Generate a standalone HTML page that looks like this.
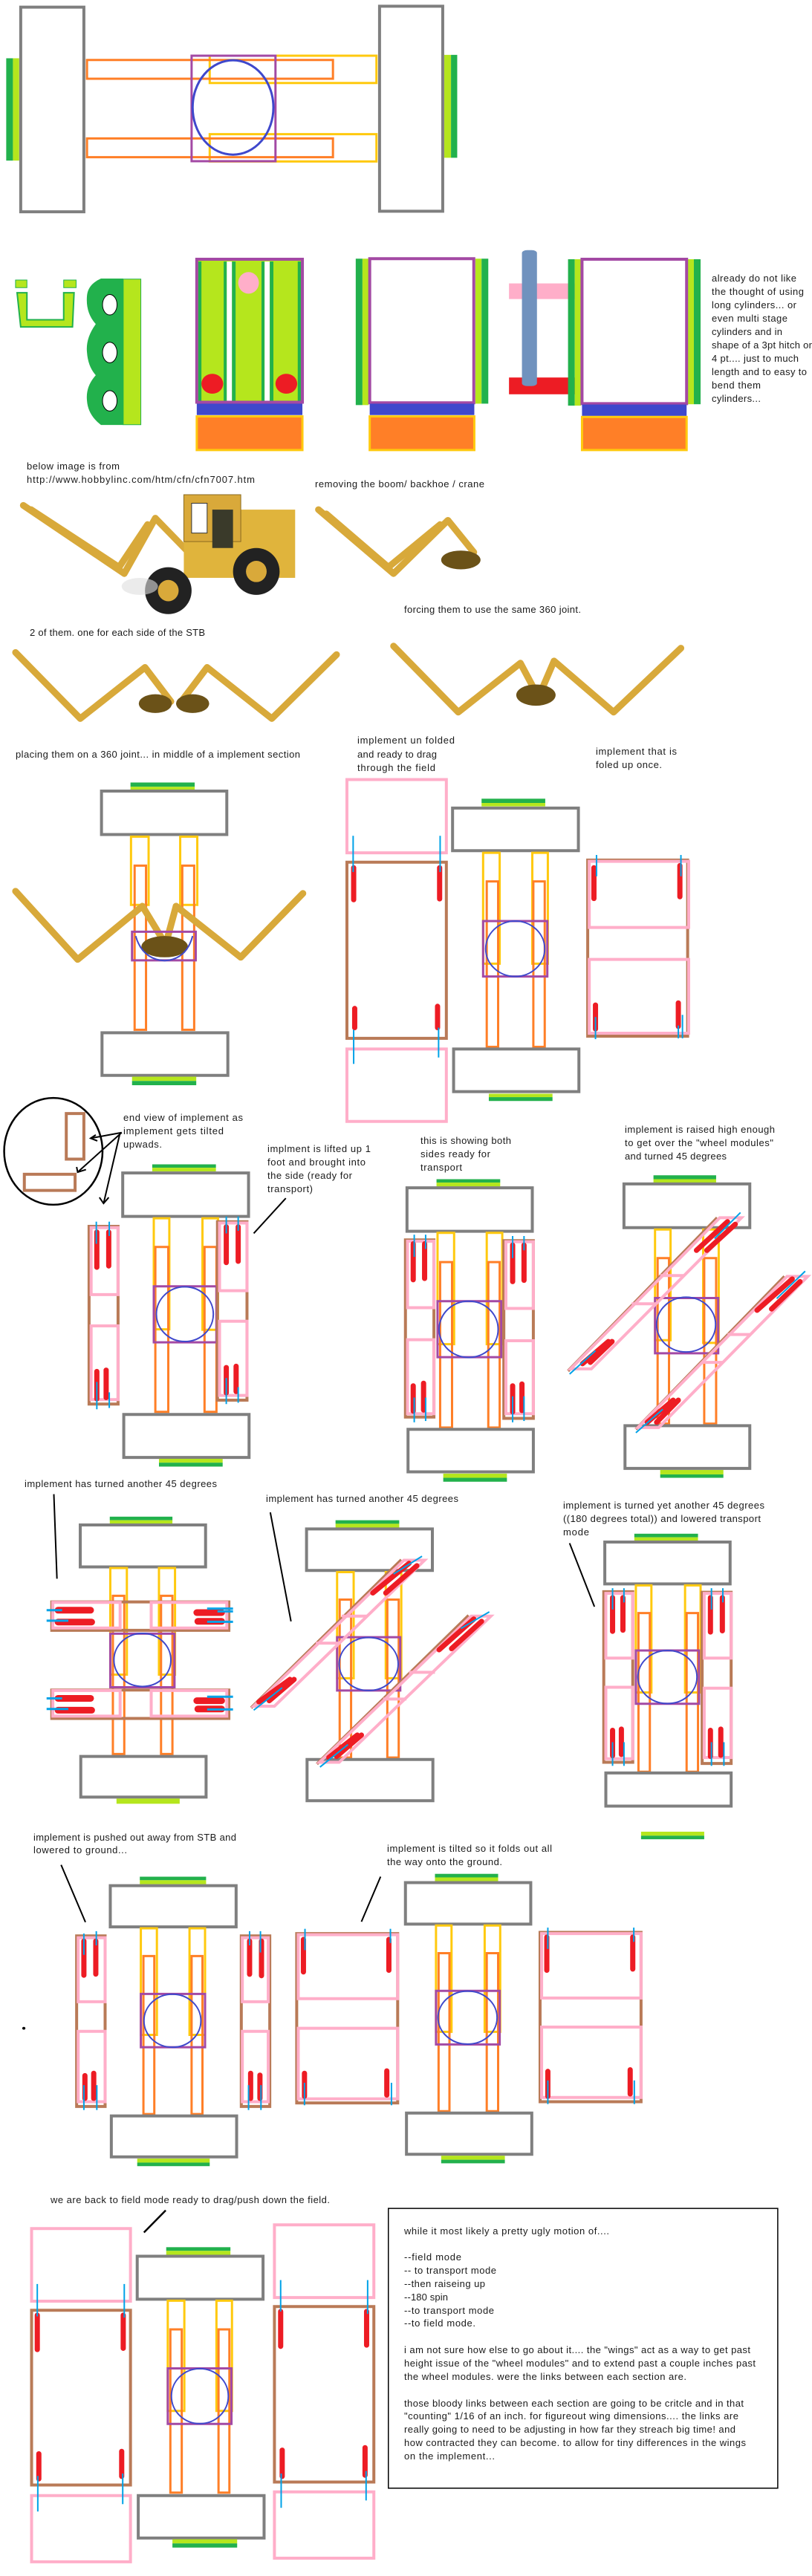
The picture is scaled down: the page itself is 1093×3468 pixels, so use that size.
<!DOCTYPE html>
<html><head><meta charset="utf-8"><style>
html,body{margin:0;padding:0;background:#fff;}
svg{display:block}
rect,ellipse,line,polyline,polygon,path{vector-effect:non-scaling-stroke}
.gy{fill:#fff;stroke:#7f7f7f;stroke-width:4}
.y{fill:none;stroke:#ffc90e;stroke-width:3}
.o{fill:none;stroke:#ff7f27;stroke-width:3}
.p{fill:none;stroke:#a349a4;stroke-width:3}
.b{fill:none;stroke:#3f48cc;stroke-width:2}
.pk{fill:none;stroke:#ffaec9;stroke-width:4}
.br{fill:none;stroke:#b97a57;stroke-width:4}
.r{stroke:#ed1c24;stroke-width:7;stroke-linecap:round}
.c{stroke:#00a2e8;stroke-width:2}
.k{stroke:#000;stroke-width:2;fill:none}
.cr{fill:none;stroke:#d8a93a;stroke-width:9;stroke-linejoin:round;stroke-linecap:round}
.cr2{fill:none;stroke:#a87e22;stroke-width:2}
.bs{fill:#6b5218}
text{font-family:"Liberation Sans",sans-serif;font-size:13px;fill:#1a1a1a}
</style></head><body>
<svg width="1093" height="3468" viewBox="0 0 1093 3468" xmlns="http://www.w3.org/2000/svg">

<!-- R1 -->
<g transform="matrix(0.697,0,0,0.3827,0,0)">
<rect x="12" y="205" width="13" height="360" fill="#22b14c"/><rect x="25" y="205" width="12" height="360" fill="#b5e61d"/>
<rect x="858" y="193" width="13" height="362" fill="#b5e61d"/><rect x="871" y="193" width="12" height="362" fill="#22b14c"/>
<rect class="gy" x="40" y="25" width="122" height="720"/>
<rect class="gy" x="733" y="22" width="122" height="721"/>
<rect class="y" x="405" y="196" width="322" height="96"/>
<rect class="y" x="405" y="472" width="322" height="96"/>
<rect class="o" x="168" y="211" width="475" height="66"/>
<rect class="o" x="168" y="487" width="475" height="66"/>
<rect class="p" x="370" y="196" width="162" height="371"/>
<ellipse class="b" cx="450" cy="378" rx="78" ry="166" style="stroke-width:3"/>
<!-- U -->
<rect x="30" y="985" width="22" height="27" fill="#b5e61d" stroke="#22b14c"/>
<rect x="123" y="985" width="24" height="27" fill="#b5e61d" stroke="#22b14c"/>
<path d="M33,1030 L52,1030 L52,1125 L123,1125 L123,1030 L143,1030 L140,1150 L40,1150 Z" fill="#b5e61d" stroke="#22b14c" stroke-width="2"/>
<path d="M195,980 Q170,1000 168,1040 Q165,1100 185,1140 Q165,1190 168,1240 Q170,1290 185,1320 Q165,1360 168,1410 Q170,1460 195,1495 L238,1495 L238,980 Z" fill="#22b14c"/>
<rect x="238" y="982" width="34" height="512" fill="#b5e61d" stroke="#22b14c" stroke-width="1"/>
<ellipse cx="212" cy="1072" rx="14" ry="36" fill="#fff" stroke="#000"/>
<ellipse cx="212" cy="1240" rx="14" ry="36" fill="#fff" stroke="#000"/>
<ellipse cx="212" cy="1410" rx="14" ry="36" fill="#fff" stroke="#000"/>
<!-- panel A -->
<rect x="380" y="912" width="204" height="503" fill="#b5e61d"/>
<rect x="383" y="920" width="6" height="490" fill="#22b14c"/><rect x="575" y="920" width="6" height="490" fill="#22b14c"/>
<rect x="432" y="920" width="6" height="490" fill="#22b14c"/><rect x="438" y="920" width="10" height="490" fill="#fff"/><rect x="448" y="920" width="7" height="490" fill="#22b14c"/>
<rect x="505" y="920" width="6" height="490" fill="#22b14c"/><rect x="511" y="920" width="10" height="490" fill="#fff"/><rect x="521" y="920" width="7" height="490" fill="#22b14c"/>
<rect class="p" x="380" y="912" width="204" height="503" style="stroke-width:4"/>
<ellipse cx="480" cy="995" rx="20" ry="38" fill="#ffaec9"/>
<ellipse cx="410" cy="1350" rx="21" ry="35" fill="#ed1c24"/><ellipse cx="553" cy="1350" rx="21" ry="35" fill="#ed1c24"/>
<rect x="380" y="1420" width="204" height="40" fill="#3f48cc"/>
<rect x="380" y="1465" width="204" height="118" fill="#ff7f27" stroke="#ffc90e" stroke-width="3"/>
<!-- panel B -->
<rect x="687" y="910" width="13" height="515" fill="#22b14c"/><rect x="700" y="910" width="12" height="515" fill="#b5e61d"/>
<rect x="918" y="910" width="12" height="510" fill="#b5e61d"/><rect x="930" y="910" width="13" height="510" fill="#22b14c"/>
<rect class="p" x="714" y="910" width="201" height="507" style="stroke-width:4"/>
<rect x="714" y="1420" width="202" height="40" fill="#3f48cc"/>
<rect x="714" y="1465" width="202" height="118" fill="#ff7f27" stroke="#ffc90e" stroke-width="3"/>
<!-- panel C -->
<rect x="983" y="997" width="129" height="55" fill="#ffaec9"/>
<rect x="983" y="1328" width="129" height="59" fill="#ed1c24"/>
<rect x="1008" y="880" width="29" height="478" rx="10" fill="#7092be"/>
<rect x="1097" y="912" width="13" height="515" fill="#22b14c"/><rect x="1110" y="912" width="12" height="515" fill="#b5e61d"/>
<rect x="1328" y="912" width="12" height="510" fill="#b5e61d"/><rect x="1340" y="912" width="13" height="510" fill="#22b14c"/>
<rect class="p" x="1124" y="912" width="202" height="508" style="stroke-width:4"/>
<rect x="1124" y="1423" width="202" height="40" fill="#3f48cc"/>
<rect x="1124" y="1467" width="202" height="116" fill="#ff7f27" stroke="#ffc90e" stroke-width="3"/>
</g>

<!-- R2 -->
<g transform="matrix(0.697,0,0,0.574,0,600)">
<!-- photo1 -->
<polyline class="cr" points="45,140 240,300 300,170 360,245"/>
<polyline class="cr" points="60,150 230,285 285,185"/>
<rect x="355" y="150" width="215" height="160" fill="#e0b43c"/>
<rect x="355" y="115" width="110" height="110" fill="#d9a93a" stroke="#8a6a20"/>
<rect x="370" y="135" width="30" height="70" fill="#fff" stroke="#333"/>
<rect x="410" y="150" width="40" height="90" fill="#3a3a2a"/>
<ellipse cx="325" cy="340" rx="45" ry="55" fill="#222"/><ellipse cx="325" cy="340" rx="20" ry="25" fill="#d9a93a"/>
<ellipse cx="495" cy="295" rx="45" ry="55" fill="#222"/><ellipse cx="495" cy="295" rx="20" ry="25" fill="#d9a93a"/>
<ellipse cx="270" cy="330" rx="35" ry="20" fill="#ddd" opacity="0.6"/>
<!-- photo2 -->
<polyline class="cr" points="615,150 760,300 865,175 915,250"/>
<polyline class="cr" points="630,160 750,285 850,185"/>
<ellipse class="bs" cx="890" cy="268" rx="38" ry="22"/>
<!-- photo3 -->
<polyline class="cr" points="30,485 155,640 280,520 330,600"/>
<polyline class="cr" points="650,490 525,640 400,520 350,600"/>
<ellipse class="bs" cx="300" cy="605" rx="32" ry="22"/><ellipse class="bs" cx="372" cy="605" rx="32" ry="22"/>
<!-- photo4 -->
<polyline class="cr" points="760,470 885,625 1005,510 1040,590"/>
<polyline class="cr" points="1315,475 1185,625 1070,505 1040,590"/>
<ellipse class="bs" cx="1035" cy="585" rx="38" ry="25"/>
<!-- STB diagram 1 -->
<rect x="252" y="790" width="124" height="10" fill="#22b14c"/><rect x="252" y="800" width="124" height="8" fill="#b5e61d"/>
<rect class="gy" x="196" y="810" width="242" height="102"/>
<rect class="y" x="253" y="917" width="34" height="160"/><rect class="y" x="348" y="917" width="33" height="160"/>
<rect class="o" x="260" y="985" width="22" height="385"/><rect class="o" x="352" y="985" width="23" height="385"/>
<polyline class="cr" points="30,1045 150,1205 275,1080 320,1170"/>
<polyline class="cr" points="585,1050 465,1200 340,1080 320,1170"/>
<rect class="p" x="255" y="1140" width="123" height="67"/>
<ellipse class="bs" cx="318" cy="1175" rx="45" ry="25"/>
<path class="b" d="M262,1150 Q275,1205 318,1208 Q360,1205 372,1150"/>
<rect class="gy" x="197" y="1377" width="243" height="100"/>
<rect x="255" y="1480" width="124" height="10" fill="#b5e61d"/><rect x="255" y="1490" width="124" height="10" fill="#22b14c"/>
<!-- field mode -->
<rect class="pk" x="670" y="783" width="192" height="172"/>
<rect class="br" x="670" y="977" width="192" height="413"/>
<rect class="pk" x="670" y="1415" width="192" height="170"/>
<line class="r" x1="683" y1="990" x2="683" y2="1065"/><line class="r" x1="849" y1="990" x2="849" y2="1063"/>
<line class="r" x1="685" y1="1320" x2="685" y2="1365"/><line class="r" x1="845" y1="1315" x2="845" y2="1365"/>
<line class="c" x1="682" y1="915" x2="682" y2="1000"/><line class="c" x1="850" y1="915" x2="850" y2="1000"/>
<line class="c" x1="683" y1="1370" x2="683" y2="1450"/><line class="c" x1="847" y1="1365" x2="847" y2="1435"/>
<rect x="930" y="828" width="123" height="10" fill="#22b14c"/><rect x="930" y="838" width="123" height="8" fill="#b5e61d"/>
<rect class="gy" x="874" y="850" width="243" height="100"/>
<rect class="y" x="933" y="955" width="32" height="260"/><rect class="y" x="1028" y="955" width="30" height="260"/>
<rect class="o" x="940" y="1022" width="22" height="388"/><rect class="o" x="1030" y="1022" width="22" height="388"/>
<rect class="p" x="933" y="1115" width="124" height="130"/>
<ellipse class="b" cx="995" cy="1180" rx="57" ry="65"/>
<rect class="gy" x="876" y="1415" width="242" height="100"/>
<rect x="944" y="1520" width="123" height="8" fill="#b5e61d"/><rect x="944" y="1528" width="123" height="9" fill="#22b14c"/>
<!-- folded once -->
<rect class="br" x="1135" y="972" width="193" height="413"/>
<rect class="pk" x="1138" y="975" width="192" height="155"/>
<rect class="pk" x="1138" y="1205" width="192" height="173"/>
<line class="r" x1="1147" y1="990" x2="1147" y2="1062"/><line class="r" x1="1313" y1="985" x2="1313" y2="1058"/>
<line class="r" x1="1150" y1="1312" x2="1150" y2="1368"/><line class="r" x1="1310" y1="1307" x2="1310" y2="1362"/>
<line class="c" x1="1152" y1="960" x2="1152" y2="1010"/><line class="c" x1="1315" y1="960" x2="1315" y2="1010"/>
<line class="c" x1="1150" y1="1340" x2="1150" y2="1392"/><line class="c" x1="1318" y1="1335" x2="1318" y2="1390"/><line class="c" x1="1310" y1="1360" x2="1310" y2="1390"/>
</g>

<!-- R3 -->
<g transform="matrix(0.697,0,0,0.3508,0,1450)">
<ellipse cx="103" cy="285" rx="95" ry="205" class="k" style="stroke-width:2.5"/>
<rect class="br" x="128" y="140" width="34" height="175"/>
<rect class="br" x="47" y="373" width="98" height="62"/>
<line class="k" x1="235" y1="213" x2="175" y2="235"/><line class="k" x1="235" y1="213" x2="150" y2="365"/><line class="k" x1="232" y1="213" x2="200" y2="485"/>
<polyline class="k" points="185,222 175,235 188,245"/><polyline class="k" points="148,345 150,365 166,355"/><polyline class="k" points="192,462 200,485 210,462"/>
<line class="k" x1="552" y1="465" x2="490" y2="600"/>
<!-- A -->
<rect x="294" y="335" width="123" height="13" fill="#22b14c"/><rect x="294" y="348" width="123" height="14" fill="#b5e61d"/>
<rect class="gy" x="237" y="368" width="243" height="167"/>
<rect class="y" x="297" y="542" width="30" height="426"/><rect class="y" x="391" y="542" width="30" height="428"/>
<rect class="o" x="300" y="652" width="25" height="633"/><rect class="o" x="395" y="652" width="23" height="633"/>
<rect class="p" x="297" y="803" width="121" height="215"/>
<ellipse class="b" cx="357" cy="910" rx="55" ry="105"/>
<rect class="gy" x="239" y="1295" width="242" height="165"/>
<rect x="307" y="1465" width="123" height="15" fill="#b5e61d"/><rect x="307" y="1480" width="123" height="15" fill="#22b14c"/>
<rect class="br" x="172" y="573" width="56" height="682"/>
<rect class="pk" x="176" y="578" width="52" height="257"/><rect class="pk" x="176" y="955" width="52" height="283"/>
<line class="r" x1="187" y1="595" x2="187" y2="730"/><line class="r" x1="210" y1="595" x2="210" y2="725"/>
<line class="r" x1="187" y1="1130" x2="187" y2="1235"/><line class="r" x1="205" y1="1125" x2="205" y2="1230"/>
<line class="c" x1="186" y1="555" x2="186" y2="640"/><line class="c" x1="211" y1="555" x2="211" y2="610"/>
<line class="c" x1="187" y1="1170" x2="187" y2="1275"/><line class="c" x1="211" y1="1210" x2="211" y2="1270"/>
<rect class="br" x="420" y="555" width="57" height="685"/>
<rect class="pk" x="424" y="560" width="53" height="260"/><rect class="pk" x="424" y="937" width="53" height="285"/>
<line class="r" x1="437" y1="575" x2="437" y2="712"/><line class="r" x1="460" y1="575" x2="460" y2="707"/>
<line class="r" x1="437" y1="1115" x2="437" y2="1212"/><line class="r" x1="456" y1="1110" x2="456" y2="1207"/>
<line class="c" x1="437" y1="535" x2="437" y2="600"/><line class="c" x1="460" y1="535" x2="460" y2="590"/>
<line class="c" x1="437" y1="1155" x2="437" y2="1255"/><line class="c" x1="460" y1="1190" x2="460" y2="1250"/>
<!-- B -->
<rect x="843" y="392" width="123" height="13" fill="#22b14c"/><rect x="843" y="405" width="123" height="15" fill="#b5e61d"/>
<rect class="gy" x="786" y="425" width="242" height="167"/>
<rect class="y" x="845" y="598" width="32" height="427"/><rect class="y" x="940" y="598" width="30" height="427"/>
<rect class="o" x="850" y="710" width="23" height="635"/><rect class="o" x="943" y="710" width="22" height="635"/>
<rect class="p" x="845" y="860" width="123" height="215"/>
<ellipse class="b" cx="905" cy="968" rx="57" ry="108"/>
<rect class="gy" x="788" y="1352" width="242" height="163"/>
<rect x="856" y="1522" width="123" height="16" fill="#b5e61d"/><rect x="856" y="1538" width="123" height="15" fill="#22b14c"/>
<rect class="br" x="783" y="625" width="55" height="680"/>
<rect class="pk" x="787" y="630" width="51" height="255"/><rect class="pk" x="787" y="1008" width="51" height="284"/>
<line class="r" x1="798" y1="640" x2="798" y2="778"/><line class="r" x1="820" y1="640" x2="820" y2="773"/>
<line class="r" x1="798" y1="1185" x2="798" y2="1282"/><line class="r" x1="818" y1="1175" x2="818" y2="1278"/>
<line class="c" x1="800" y1="605" x2="800" y2="690"/><line class="c" x1="822" y1="605" x2="822" y2="660"/>
<line class="c" x1="800" y1="1230" x2="800" y2="1325"/><line class="c" x1="822" y1="1230" x2="822" y2="1320"/>
<rect class="br" x="973" y="628" width="57" height="682"/>
<rect class="pk" x="977" y="632" width="53" height="256"/><rect class="pk" x="977" y="1012" width="53" height="280"/>
<line class="r" x1="990" y1="645" x2="990" y2="785"/><line class="r" x1="1012" y1="645" x2="1012" y2="780"/>
<line class="r" x1="990" y1="1185" x2="990" y2="1285"/><line class="r" x1="1008" y1="1178" x2="1008" y2="1280"/>
<line class="c" x1="990" y1="610" x2="990" y2="695"/><line class="c" x1="1012" y1="610" x2="1012" y2="665"/>
<line class="c" x1="990" y1="1225" x2="990" y2="1325"/><line class="c" x1="1012" y1="1225" x2="1012" y2="1320"/>
<!-- C -->
<rect x="1262" y="377" width="121" height="15" fill="#22b14c"/><rect x="1262" y="392" width="121" height="16" fill="#b5e61d"/>
<rect class="gy" x="1205" y="410" width="243" height="168"/>
<rect class="y" x="1265" y="585" width="30" height="425"/><rect class="y" x="1358" y="585" width="30" height="435"/>
<rect class="o" x="1270" y="695" width="22" height="635"/><rect class="o" x="1360" y="695" width="23" height="635"/>
<rect class="p" x="1265" y="848" width="122" height="212"/>
<ellipse class="b" cx="1325" cy="950" rx="57" ry="105"/>
<rect class="gy" x="1207" y="1338" width="241" height="164"/>
<rect x="1275" y="1508" width="122" height="17" fill="#b5e61d"/><rect x="1275" y="1525" width="122" height="13" fill="#22b14c"/>
<line class="br" x1="1385" y1="540" x2="1097" y2="1128"/>
<polygon class="pk" points="1390,540 1432,540 1142,1120 1102,1120"/>
<line class="r" x1="1345" y1="665" x2="1405" y2="555"/><line class="r" x1="1365" y1="665" x2="1420" y2="565"/>
<line class="r" x1="1125" y1="1100" x2="1175" y2="1015"/><line class="r" x1="1140" y1="1095" x2="1182" y2="1015"/>
<line class="c" x1="1380" y1="620" x2="1430" y2="520"/><line class="c" x1="1100" y1="1140" x2="1150" y2="1050"/>
<line class="br" x1="1515" y1="765" x2="1228" y2="1352"/>
<polygon class="pk" points="1520,765 1560,765 1272,1345 1232,1345"/>
<line class="r" x1="1462" y1="895" x2="1530" y2="775"/><line class="r" x1="1490" y1="890" x2="1545" y2="785"/>
<line class="r" x1="1250" y1="1325" x2="1300" y2="1240"/><line class="r" x1="1268" y1="1325" x2="1310" y2="1240"/>
<line class="c" x1="1500" y1="850" x2="1555" y2="745"/><line class="c" x1="1228" y1="1365" x2="1280" y2="1275"/>
<line class="pk" x1="1275" y1="762" x2="1320" y2="762"/><line class="pk" x1="1220" y1="870" x2="1268" y2="870"/>
<line class="pk" x1="1405" y1="988" x2="1450" y2="988"/><line class="pk" x1="1355" y1="1095" x2="1395" y2="1095"/>
</g>

<!-- R4 -->
<g transform="matrix(0.697,0,0,0.3189,0,1950)">
<line class="k" x1="104" y1="193" x2="110" y2="550"/>
<line class="k" x1="522" y1="270" x2="562" y2="730"/>
<line class="k" x1="1100" y1="400" x2="1148" y2="668"/>
<!-- D -->
<rect x="212" y="288" width="121" height="15" fill="#22b14c"/><rect x="212" y="303" width="121" height="17" fill="#b5e61d"/>
<rect class="gy" x="155" y="323" width="242" height="177"/>
<rect class="y" x="213" y="505" width="32" height="450"/><rect class="y" x="307" y="505" width="31" height="450"/>
<rect class="o" x="218" y="622" width="22" height="668"/><rect class="o" x="311" y="622" width="22" height="668"/>
<rect class="p" x="213" y="782" width="124" height="226"/>
<ellipse class="b" cx="275" cy="893" rx="55" ry="112"/>
<rect class="gy" x="156" y="1300" width="242" height="172"/>
<rect x="225" y="1478" width="122" height="22" fill="#b5e61d"/>
<rect class="br" x="100" y="648" width="342" height="120"/>
<rect class="pk" x="102" y="650" width="130" height="108"/><rect class="pk" x="292" y="650" width="146" height="108"/>
<line class="r" x1="112" y1="683" x2="175" y2="683" style="stroke-width:9"/><line class="r" x1="112" y1="733" x2="177" y2="733" style="stroke-width:9"/>
<line class="r" x1="380" y1="693" x2="428" y2="693" style="stroke-width:9"/><line class="r" x1="382" y1="730" x2="428" y2="730" style="stroke-width:9"/>
<line class="c" x1="90" y1="683" x2="120" y2="683" style="stroke-width:3"/><line class="c" x1="90" y1="727" x2="132" y2="727" style="stroke-width:3"/>
<line class="c" x1="400" y1="676" x2="450" y2="676" style="stroke-width:3"/><line class="c" x1="420" y1="688" x2="450" y2="688" style="stroke-width:3"/><line class="c" x1="400" y1="732" x2="450" y2="732" style="stroke-width:3"/>
<rect class="br" x="100" y="1020" width="342" height="120"/>
<rect class="pk" x="102" y="1022" width="130" height="108"/><rect class="pk" x="292" y="1022" width="146" height="108"/>
<line class="r" x1="112" y1="1055" x2="175" y2="1055" style="stroke-width:9"/><line class="r" x1="112" y1="1105" x2="177" y2="1105" style="stroke-width:9"/>
<line class="r" x1="380" y1="1065" x2="428" y2="1065" style="stroke-width:9"/><line class="r" x1="382" y1="1100" x2="428" y2="1100" style="stroke-width:9"/>
<line class="c" x1="90" y1="1055" x2="120" y2="1055" style="stroke-width:3"/><line class="c" x1="90" y1="1100" x2="132" y2="1100" style="stroke-width:3"/>
<line class="c" x1="400" y1="1048" x2="450" y2="1048" style="stroke-width:3"/><line class="c" x1="400" y1="1102" x2="450" y2="1102" style="stroke-width:3"/>
<!-- E -->
<rect x="648" y="303" width="123" height="15" fill="#22b14c"/><rect x="648" y="318" width="123" height="17" fill="#b5e61d"/>
<rect class="gy" x="592" y="340" width="243" height="175"/>
<rect class="y" x="651" y="522" width="32" height="448"/><rect class="y" x="745" y="522" width="30" height="448"/>
<rect class="o" x="656" y="638" width="22" height="667"/><rect class="o" x="748" y="638" width="22" height="667"/>
<rect class="p" x="651" y="797" width="122" height="225"/>
<ellipse class="b" cx="712" cy="910" rx="57" ry="112"/>
<rect class="gy" x="593" y="1313" width="243" height="174"/>
<line class="br" x1="775" y1="470" x2="485" y2="1095"/>
<polygon class="pk" points="780,472 820,472 530,1088 490,1088"/>
<line class="r" x1="720" y1="610" x2="790" y2="485"/><line class="r" x1="745" y1="610" x2="805" y2="495"/>
<line class="r" x1="500" y1="1070" x2="560" y2="975"/><line class="r" x1="520" y1="1065" x2="568" y2="975"/>
<line class="c" x1="760" y1="530" x2="815" y2="455"/><line class="c" x1="490" y1="1105" x2="545" y2="1010"/>
<line class="br" x1="905" y1="705" x2="612" y2="1332"/>
<polygon class="pk" points="910,708 948,708 655,1325 617,1325"/>
<line class="r" x1="848" y1="850" x2="915" y2="720"/><line class="r" x1="872" y1="845" x2="930" y2="730"/>
<line class="r" x1="635" y1="1305" x2="690" y2="1210"/><line class="r" x1="650" y1="1300" x2="698" y2="1210"/>
<line class="c" x1="890" y1="760" x2="945" y2="690"/><line class="c" x1="618" y1="1345" x2="672" y2="1250"/>
<line class="pk" x1="660" y1="708" x2="710" y2="708"/><line class="pk" x1="610" y1="822" x2="655" y2="822"/>
<line class="pk" x1="790" y1="945" x2="840" y2="945"/><line class="pk" x1="740" y1="1058" x2="785" y2="1058"/>
<!-- F -->
<rect x="1225" y="360" width="123" height="15" fill="#22b14c"/><rect x="1225" y="375" width="123" height="17" fill="#b5e61d"/>
<rect class="gy" x="1168" y="395" width="242" height="177"/>
<rect class="y" x="1228" y="578" width="30" height="452"/><rect class="y" x="1323" y="578" width="30" height="452"/>
<rect class="o" x="1233" y="695" width="22" height="670"/><rect class="o" x="1326" y="695" width="22" height="670"/>
<rect class="p" x="1228" y="853" width="122" height="225"/>
<ellipse class="b" cx="1289" cy="965" rx="57" ry="112"/>
<rect class="gy" x="1170" y="1370" width="242" height="140"/>
<rect class="br" x="1166" y="605" width="56" height="720"/>
<rect class="pk" x="1170" y="612" width="52" height="273"/><rect class="pk" x="1170" y="1008" width="52" height="302"/>
<line class="r" x1="1183" y1="630" x2="1183" y2="772"/><line class="r" x1="1203" y1="630" x2="1203" y2="767"/>
<line class="r" x1="1183" y1="1190" x2="1183" y2="1297"/><line class="r" x1="1200" y1="1185" x2="1200" y2="1292"/>
<line class="c" x1="1183" y1="590" x2="1183" y2="680"/><line class="c" x1="1205" y1="590" x2="1205" y2="650"/>
<line class="c" x1="1183" y1="1240" x2="1183" y2="1340"/><line class="c" x1="1205" y1="1240" x2="1205" y2="1340"/>
<rect class="br" x="1356" y="607" width="56" height="723"/>
<rect class="pk" x="1360" y="612" width="52" height="273"/><rect class="pk" x="1360" y="1012" width="52" height="293"/>
<line class="r" x1="1372" y1="630" x2="1372" y2="775"/><line class="r" x1="1395" y1="630" x2="1395" y2="770"/>
<line class="r" x1="1372" y1="1190" x2="1372" y2="1300"/><line class="r" x1="1392" y1="1185" x2="1392" y2="1295"/>
<line class="c" x1="1374" y1="590" x2="1374" y2="680"/><line class="c" x1="1396" y1="590" x2="1396" y2="650"/>
<line class="c" x1="1374" y1="1240" x2="1374" y2="1340"/><line class="c" x1="1398" y1="1240" x2="1398" y2="1340"/>
</g>

<!-- R5 -->
<g transform="matrix(0.697,0,0,0.3189,0,2450)">
<rect x="1238" y="50" width="122" height="17" fill="#b5e61d"/><rect x="1238" y="67" width="122" height="15" fill="#22b14c"/>
<line class="k" x1="118" y1="190" x2="165" y2="432"/>
<line class="k" x1="735" y1="240" x2="698" y2="430"/>
<ellipse cx="46" cy="880" rx="3" ry="6" fill="#000"/>
<!-- G -->
<rect x="270" y="240" width="128" height="15" fill="#22b14c"/><rect x="270" y="255" width="128" height="17" fill="#b5e61d"/>
<rect class="gy" x="213" y="278" width="243" height="174"/>
<rect class="y" x="272" y="458" width="31" height="450"/><rect class="y" x="366" y="458" width="30" height="450"/>
<rect class="o" x="277" y="575" width="21" height="667"/><rect class="o" x="370" y="575" width="21" height="667"/>
<rect class="p" x="272" y="735" width="124" height="225"/>
<ellipse class="b" cx="333" cy="848" rx="55" ry="112"/>
<rect class="gy" x="215" y="1250" width="242" height="173"/>
<rect x="265" y="1430" width="140" height="17" fill="#b5e61d"/><rect x="265" y="1447" width="140" height="15" fill="#22b14c"/>
<rect class="br" x="148" y="490" width="55" height="720"/>
<rect class="pk" x="151" y="498" width="52" height="270"/><rect class="pk" x="151" y="893" width="52" height="297"/>
<line class="r" x1="162" y1="512" x2="162" y2="656"/><line class="r" x1="185" y1="512" x2="185" y2="651"/>
<line class="r" x1="164" y1="1080" x2="164" y2="1176"/><line class="r" x1="181" y1="1070" x2="181" y2="1176"/>
<line class="c" x1="162" y1="480" x2="162" y2="570"/><line class="c" x1="186" y1="470" x2="186" y2="530"/>
<line class="c" x1="162" y1="1120" x2="162" y2="1225"/><line class="c" x1="187" y1="1120" x2="187" y2="1225"/>
<rect class="br" x="466" y="490" width="55" height="720"/>
<rect class="pk" x="468" y="498" width="50" height="270"/><rect class="pk" x="468" y="893" width="50" height="297"/>
<line class="r" x1="482" y1="512" x2="482" y2="652"/><line class="r" x1="505" y1="512" x2="505" y2="658"/>
<line class="r" x1="484" y1="1070" x2="484" y2="1176"/><line class="r" x1="502" y1="1078" x2="502" y2="1176"/>
<line class="c" x1="482" y1="470" x2="482" y2="530"/><line class="c" x1="503" y1="470" x2="503" y2="560"/>
<line class="c" x1="480" y1="1120" x2="480" y2="1225"/><line class="c" x1="504" y1="1120" x2="504" y2="1225"/>
<!-- H -->
<rect x="840" y="228" width="122" height="15" fill="#22b14c"/><rect x="840" y="243" width="122" height="17" fill="#b5e61d"/>
<rect class="gy" x="783" y="265" width="242" height="175"/>
<rect class="y" x="842" y="446" width="30" height="449"/><rect class="y" x="936" y="446" width="30" height="449"/>
<rect class="o" x="847" y="563" width="21" height="667"/><rect class="o" x="940" y="563" width="22" height="667"/>
<rect class="p" x="842" y="722" width="123" height="226"/>
<ellipse class="b" cx="903" cy="835" rx="57" ry="112"/>
<rect class="gy" x="785" y="1238" width="242" height="174"/>
<rect x="852" y="1418" width="123" height="17" fill="#b5e61d"/><rect x="852" y="1435" width="123" height="15" fill="#22b14c"/>
<rect class="br" x="573" y="480" width="195" height="715"/>
<rect class="pk" x="576" y="485" width="192" height="270"/><rect class="pk" x="576" y="880" width="192" height="298"/>
<line class="r" x1="586" y1="505" x2="586" y2="642"/><line class="r" x1="751" y1="505" x2="751" y2="635"/>
<line class="r" x1="588" y1="1070" x2="588" y2="1167"/><line class="r" x1="747" y1="1060" x2="747" y2="1162"/>
<line class="c" x1="589" y1="460" x2="589" y2="550"/><line class="c" x1="754" y1="460" x2="754" y2="520"/>
<line class="c" x1="588" y1="1110" x2="588" y2="1205"/><line class="c" x1="756" y1="1110" x2="756" y2="1205"/>
<rect class="br" x="1043" y="475" width="195" height="715"/>
<rect class="pk" x="1046" y="480" width="192" height="272"/><rect class="pk" x="1046" y="875" width="192" height="297"/>
<line class="r" x1="1056" y1="495" x2="1056" y2="635"/><line class="r" x1="1222" y1="495" x2="1222" y2="630"/>
<line class="r" x1="1058" y1="1062" x2="1058" y2="1167"/><line class="r" x1="1217" y1="1055" x2="1217" y2="1157"/>
<line class="c" x1="1058" y1="455" x2="1058" y2="545"/><line class="c" x1="1224" y1="455" x2="1224" y2="515"/>
<line class="c" x1="1058" y1="1100" x2="1058" y2="1200"/><line class="c" x1="1225" y1="1100" x2="1225" y2="1200"/>
</g>

<!-- R6 -->
<g transform="matrix(0.697,0,0,0.3304,0,2950)">
<line class="k" x1="320" y1="78" x2="278" y2="168" style="stroke-width:2.5"/>
<rect class="pk" x="61" y="152" width="191" height="296"/>
<rect class="br" x="61" y="485" width="191" height="712"/>
<rect class="pk" x="61" y="1240" width="191" height="270"/>
<line class="r" x1="72" y1="505" x2="72" y2="645"/><line class="r" x1="238" y1="505" x2="238" y2="640"/>
<line class="r" x1="75" y1="1070" x2="75" y2="1172"/><line class="r" x1="235" y1="1060" x2="235" y2="1162"/>
<line class="c" x1="72" y1="378" x2="72" y2="510"/><line class="c" x1="240" y1="378" x2="240" y2="515"/>
<line class="c" x1="73" y1="1160" x2="73" y2="1305"/><line class="c" x1="237" y1="1150" x2="237" y2="1275"/>
<rect x="321" y="228" width="124" height="15" fill="#22b14c"/><rect x="321" y="243" width="124" height="17" fill="#b5e61d"/>
<rect class="gy" x="265" y="265" width="243" height="175"/>
<rect class="y" x="324" y="446" width="32" height="449"/><rect class="y" x="418" y="446" width="30" height="449"/>
<rect class="o" x="329" y="563" width="22" height="665"/><rect class="o" x="422" y="563" width="21" height="665"/>
<rect class="p" x="324" y="722" width="123" height="226"/>
<ellipse class="b" cx="386" cy="835" rx="55" ry="112"/>
<rect class="gy" x="267" y="1240" width="243" height="173"/>
<rect x="333" y="1418" width="125" height="17" fill="#b5e61d"/><rect x="333" y="1435" width="125" height="17" fill="#22b14c"/>
<rect class="pk" x="530" y="137" width="192" height="296"/>
<rect class="br" x="530" y="470" width="192" height="715"/>
<rect class="pk" x="530" y="1225" width="192" height="270"/>
<line class="r" x1="542" y1="490" x2="542" y2="632"/><line class="r" x1="708" y1="490" x2="708" y2="627"/>
<line class="r" x1="545" y1="1055" x2="545" y2="1162"/><line class="r" x1="705" y1="1045" x2="705" y2="1157"/>
<line class="c" x1="542" y1="362" x2="542" y2="490"/><line class="c" x1="710" y1="362" x2="710" y2="500"/>
<line class="c" x1="543" y1="1150" x2="543" y2="1290"/><line class="c" x1="707" y1="1140" x2="707" y2="1260"/>
<rect x="750" y="70" width="752" height="1140" fill="none" stroke="#000" stroke-width="1.5"/>
</g>

<!-- TEXT -->
<g>
<text x="958" y="379" textLength="114">already do not like</text>
<text x="958" y="397" textLength="124">the thought of using</text>
<text x="958" y="415" textLength="114">long cylinders... or</text>
<text x="958" y="433" textLength="102">even multi stage</text>
<text x="958" y="451" textLength="95">cylinders and in</text>
<text x="958" y="469" textLength="135">shape of a 3pt hitch or</text>
<text x="958" y="487" textLength="117">4 pt.... just to much</text>
<text x="958" y="505" textLength="128">length and to easy to</text>
<text x="958" y="523" textLength="66">bend them</text>
<text x="958" y="541" textLength="66">cylinders...</text>

<text x="36" y="632" textLength="125">below image is from</text>
<text x="36" y="650" textLength="307">http://www.hobbylinc.com/htm/cfn/cfn7007.htm</text>
<text x="424" y="656" textLength="228">removing the boom/ backhoe / crane</text>
<text x="544" y="825" textLength="238">forcing them to use the same 360 joint.</text>
<text x="40" y="856" textLength="236">2 of them. one for each side of the STB</text>
<text x="21" y="1020" textLength="383">placing them on a 360 joint... in middle of a implement section</text>
<text x="481" y="1001" textLength="131">implement un folded</text>
<text x="481" y="1020" textLength="107">and ready to drag</text>
<text x="481" y="1038" textLength="105">through the field</text>
<text x="802" y="1016" textLength="109">implement that is</text>
<text x="802" y="1034" textLength="89">foled up once.</text>

<text x="166" y="1509" textLength="161">end view of implement as</text>
<text x="166" y="1527" textLength="135">implement gets tilted</text>
<text x="166" y="1545" textLength="52">upwads.</text>
<text x="360" y="1551" textLength="139">implment is lifted up 1</text>
<text x="360" y="1569" textLength="132">foot and brought into</text>
<text x="360" y="1587" textLength="114">the side (ready for</text>
<text x="360" y="1605" textLength="61">transport)</text>
<text x="566" y="1540" textLength="122">this is showing both</text>
<text x="566" y="1558" textLength="94">sides  ready for</text>
<text x="566" y="1576" textLength="56">transport</text>
<text x="841" y="1525" textLength="202">implement is raised high enough</text>
<text x="841" y="1543" textLength="200">to get over the "wheel modules"</text>
<text x="841" y="1561" textLength="137">and turned 45 degrees</text>

<text x="33" y="2002" textLength="259">implement has turned another 45 degrees</text>
<text x="358" y="2022" textLength="259">implement has turned another 45 degrees</text>
<text x="758" y="2031" textLength="271">implement is turned yet another 45 degrees</text>
<text x="758" y="2049" textLength="266">((180 degrees total)) and lowered transport</text>
<text x="758" y="2067" textLength="35">mode</text>

<text x="45" y="2478" textLength="273">implement is pushed out away from STB and</text>
<text x="45" y="2495" textLength="126">lowered to ground...</text>
<text x="521" y="2493" textLength="222">implement is tilted so it folds out all</text>
<text x="521" y="2511" textLength="155">the way onto the ground.</text>

<text x="68" y="2966" textLength="376">we are back to field mode ready to drag/push down the field.</text>
<text x="544" y="3008" textLength="276">while it most likely a pretty ugly motion of....</text>
<text x="544" y="3043" textLength="77">--field mode</text>
<text x="544" y="3061" textLength="124">-- to transport mode</text>
<text x="544" y="3079" textLength="109">--then raiseing up</text>
<text x="544" y="3097" textLength="59">--180 spin</text>
<text x="544" y="3115" textLength="121">--to transport mode</text>
<text x="544" y="3132" textLength="96">--to field mode.</text>
<text x="544" y="3168" textLength="466">i am not sure how else to go about it....  the "wings"  act as a way to get past</text>
<text x="544" y="3186" textLength="473">height issue of the "wheel modules"  and to extend past a couple inches past</text>
<text x="544" y="3204" textLength="380">the wheel modules. were the links between each section are.</text>
<text x="544" y="3240" textLength="457">those bloody links between each section are going to be critcle and in that</text>
<text x="544" y="3257" textLength="450">"counting" 1/16 of an inch. for figureout wing dimensions....  the links are</text>
<text x="544" y="3275" textLength="446">really going to need to be adjusting in how far they streach big time! and</text>
<text x="544" y="3293" textLength="460">how contracted they can become. to allow for tiny differences in the wings</text>
<text x="544" y="3311" textLength="122">on the implement...</text>
</g>
</svg>
</body></html>
